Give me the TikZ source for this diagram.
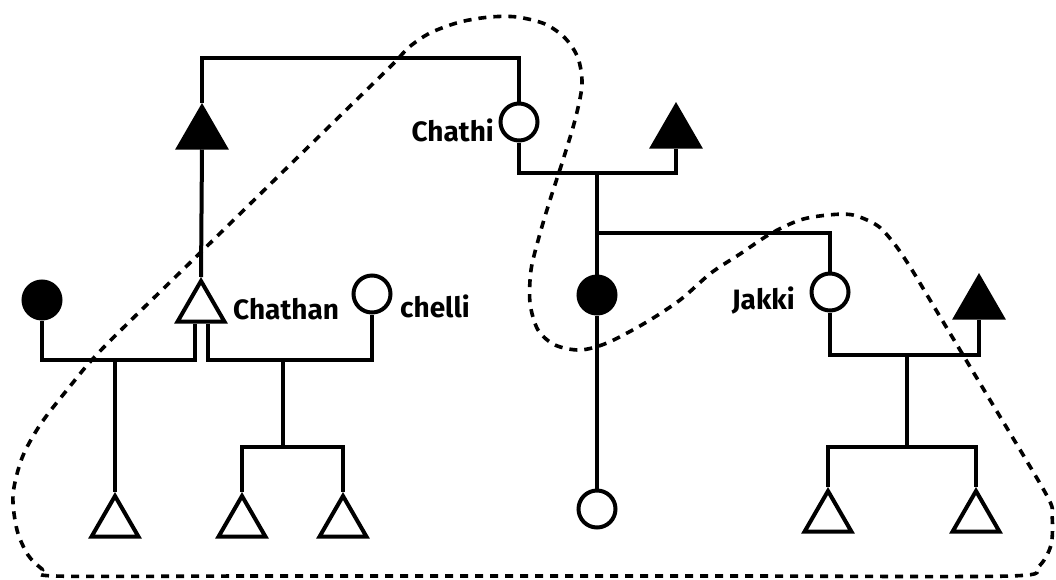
\documentclass[tikz,border=0pt]{standalone}
\usepackage{fontspec}
\setsansfont{Fira Sans}
\usetikzlibrary{shapes.geometric}
\begin{document}
\begin{tikzpicture}[x=1pt,y=-1pt,
  line/.style={line width=4pt},
  tri/.style={regular polygon, regular polygon sides=3, minimum size=54pt, inner sep=0pt, draw, line width=4pt, anchor=north},
  fem/.style={circle, draw, line width=4pt, minimum size=37pt, inner sep=0pt},
  lab/.style={font=\sffamily\bfseries\fontsize{28}{28}\selectfont, inner sep=0pt},
  loop/.style={line width=3.6pt, dash pattern=on 8pt off 7pt}]
\useasboundingbox (0,0) rectangle (1056,579);
% dashed loop
\draw[loop] plot[smooth cycle, tension=0.5] coordinates {
 (55,576) (250,576) (500,576) (750,576) (1010,576) (1038,567) (1051,545) (1052,515) (1046,494)
 (984,390) (930,300) (912,270) (896,246) (878,226) (853,215) (828,215) (800,220) (770,234)
 (740,254) (711,273) (680,300) (645,323) (607,343) (580,350) (555,345) (538,330) (530,303)
 (531,270) (539,237) (550,200) (563,160) (575,120) (582,85) (578,58) (565,38) (545,24)
 (517,17) (490,17) (460,22) (430,33) (408,48) (390,67) (300,155) (200,253) (103,348)
 (67,390) (40,425) (22,458) (13,495) (17,530) (28,555) (42,569)};
% individuals
\node[tri, fill=black] (A) at (202,103) {};
\node[fem] (Chathi) at (519,122) {};
\node[tri, fill=black] (B) at (676,102) {};
\node[fem, fill=black] (F1) at (597,295) {};
\node[fem] (Jakki) at (830,292) {};
\node[tri, fill=black] (C) at (979,273) {};
\node[fem] (D) at (597,509) {};
\node[tri] (G1) at (828,487) {};
\node[tri] (G2) at (976,487) {};
\node[fem, fill=black] (L1) at (42,300) {};
\node[tri] (Chathan) at (201,277) {};
\node[fem] (chelli) at (372,294) {};
\node[tri] (K1) at (115,492) {};
\node[tri] (K2) at (242,492) {};
\node[tri] (K3) at (343,492) {};
% coordinates
\coordinate (t1) at (202,58);
\coordinate (m1) at (519,173);
\coordinate (c1) at (597,173);
\coordinate (c2) at (597,233);
\coordinate (j1) at (830,355);
\coordinate (j2) at (907,355);
\coordinate (j3) at (907,447);
\coordinate (h1) at (195,360);
\coordinate (h2) at (208,360);
\coordinate (k1) at (115,360);
\coordinate (k2) at (283,360);
\coordinate (k3) at (283,447);
% connectors
\draw[line] (A.north) -- (t1) -| (Chathi.north);
\draw[line] (Chathi.south) -- (m1) -| (B.south);
\draw[line] (c1) -- (F1.north);
\draw[line] (c2) -| (Jakki.north);
\draw[line] (F1.south) -- (D.north);
\draw[line] (Jakki.south) -- (j1) -| (C.south);
\draw[line] (j2) -- (j3);
\draw[line] (G1.north) |- (j3) -| (G2.north);
\draw[line] (A.south) -- (Chathan.north);
\draw[line] (L1.south) |- (h1) -- (Chathan.south -| h1);
\draw[line] (Chathan.south -| h2) -- (h2) -| (chelli.south);
\draw[line] (k1) -- (K1.north);
\draw[line] (k2) -- (k3);
\draw[line] (K2.north) |- (k3) -| (K3.north);
% labels
\node[lab, anchor=east] (lChathi) at (494,130) {Chathi};
\node[lab, anchor=west] (lChathan) at (233,309) {Chathan};
\node[lab, anchor=west] (lchelli) at (400,306) {chelli};
\node[lab, anchor=east] (lJakki) at (795,301) {Jakki};
\end{tikzpicture}
\end{document}
